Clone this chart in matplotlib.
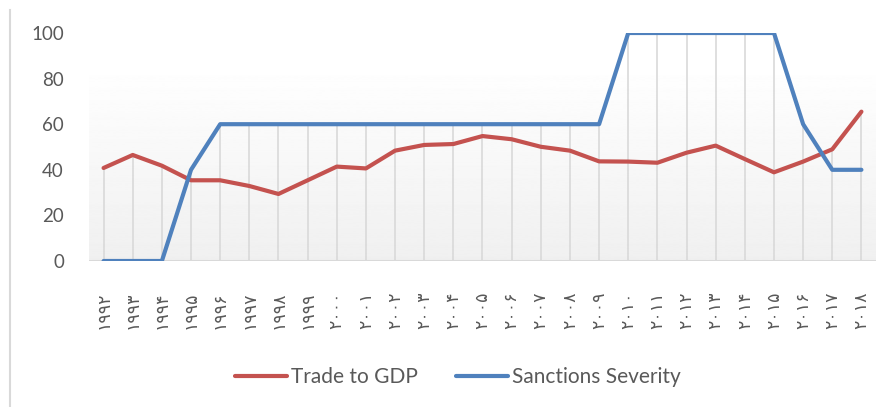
import matplotlib
matplotlib.use("Agg")
import matplotlib.pyplot as plt
from matplotlib.lines import Line2D
import numpy as np

years = list(range(1992, 2019))
trade_to_gdp = [40.8, 46.5, 41.8, 35.4, 35.4, 32.9, 29.4, 35.4, 41.4, 40.6,
                48.4, 50.9, 51.3, 54.8, 53.4, 50.1, 48.4, 43.7, 43.6, 43.1,
                47.5, 50.6, 44.7, 38.9, 43.6, 49.0, 65.5]
sanctions = [0, 0, 0, 40, 60, 60, 60, 60, 60, 60,
             60, 60, 60, 60, 60, 60, 60, 60, 100, 100,
             100, 100, 100, 100, 60, 40, 40]
y_ticks = [0, 20, 40, 60, 80, 100]

RED = "#C4524F"
BLUE = "#4F81BD"
GRID = "#D9D9D9"
TEXT = "#595959"

persian = str.maketrans("0123456789", "۰۱۲۳۴۵۶۷۸۹")
year_labels = [str(y).translate(persian) for y in years]

fig = plt.figure(figsize=(8.92, 4.07), dpi=100)
ax = fig.add_axes([89 / 892, 1 - 261 / 407, (876 - 89) / 892, (261 - 33) / 407])

x = np.arange(len(years))

# faint gray gradient behind the lower part of the plot
grad = np.linspace(0.94, 1.0, 256).reshape(-1, 1)
ax.imshow(grad, extent=(-0.5, len(years) - 0.5, 0, 87), origin="lower",
          cmap="gray", vmin=0, vmax=1, aspect="auto", zorder=0)

# drop lines from the highest series down to the axis
tops = np.maximum(trade_to_gdp, sanctions)
ax.vlines(x, 0, tops, color=GRID, lw=1.2, zorder=1)
ax.axhline(0, color=GRID, lw=1.5, zorder=1)

ax.plot(x, trade_to_gdp, color=RED, lw=3, solid_capstyle="round",
        solid_joinstyle="round", label="Trade to GDP", zorder=3)
ax.plot(x, sanctions, color=BLUE, lw=3, solid_capstyle="round",
        solid_joinstyle="round", label="Sanctions Severity", zorder=3)

ax.set_xlim(-0.5, len(years) - 0.5)
ax.set_ylim(0, 100)
ax.set_yticks(y_ticks)
ax.set_yticklabels([str(v) for v in y_ticks], fontsize=13.5, color=TEXT,
                   family="Lato")
ax.set_xticks(x)
ax.set_xticklabels(year_labels, rotation=90, fontsize=12.5, color=TEXT,
                   family="DejaVu Sans")
ax.tick_params(axis="y", length=0, pad=18)
ax.tick_params(axis="x", length=0, pad=22)
for s in ax.spines.values():
    s.set_visible(False)

fig.legend(loc="center", bbox_to_anchor=(458 / 892, 1 - 377 / 407), ncol=2,
           frameon=False, prop={"family": "Lato", "size": 15},
           labelcolor=TEXT, handlelength=2.5, handletextpad=0.2,
           columnspacing=1.8)

# chart border on the left
fig.add_artist(Line2D([10 / 892, 10 / 892], [0, 1 - 10 / 407],
                      color=GRID, lw=1.5))

fig.savefig("out.png", dpi=100)
